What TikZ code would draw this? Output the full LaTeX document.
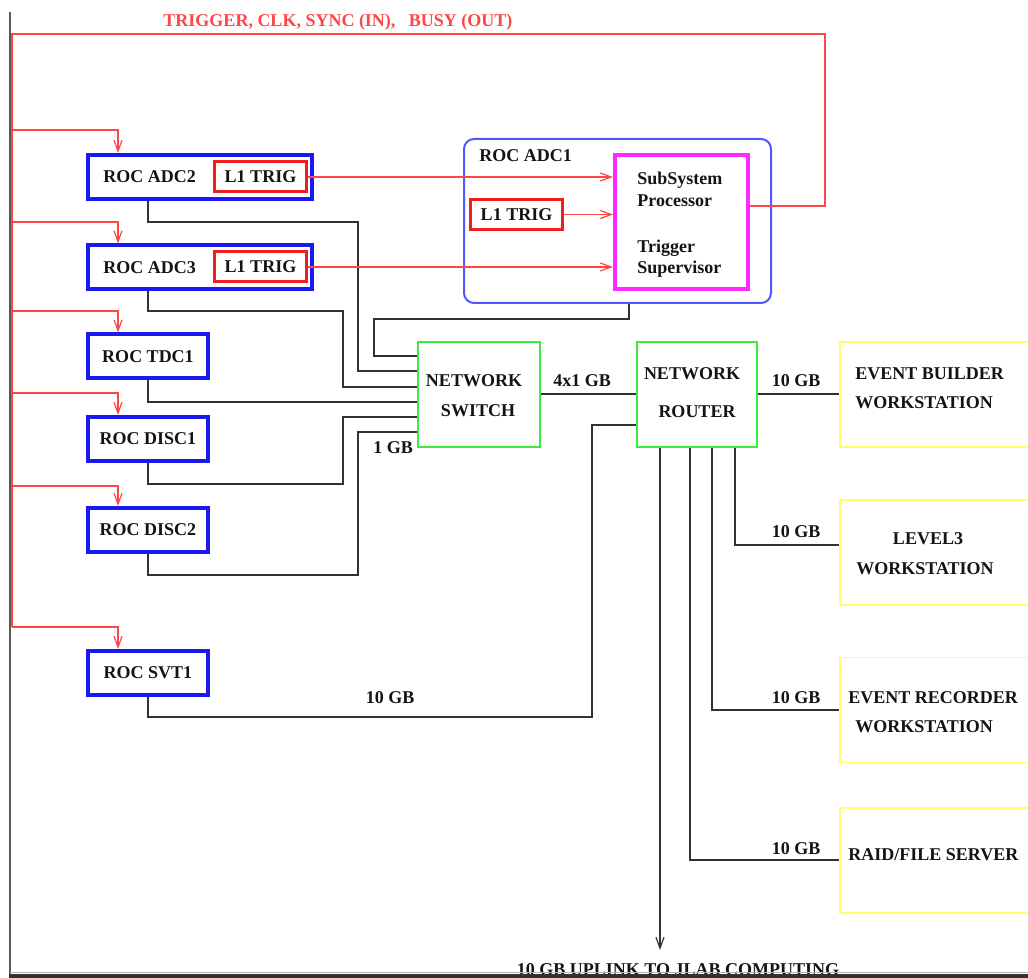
\documentclass[tikz,border=0pt]{standalone}
\usepackage{fontspec}
\setmainfont{Liberation Serif}
\usetikzlibrary{arrows.meta}
\definecolor{rocblue}{RGB}{25,25,240}
\definecolor{trigred}{RGB}{240,30,30}
\definecolor{sigred}{RGB}{255,70,70}
\definecolor{magentaC}{RGB}{255,40,255}
\definecolor{adcblue}{RGB}{85,85,255}
\definecolor{netgreen}{RGB}{60,235,60}
\definecolor{wsyellow}{RGB}{255,255,110}
\definecolor{wirec}{RGB}{50,50,50}
\definecolor{txt}{RGB}{20,20,20}
\definecolor{framedark}{RGB}{50,50,50}
\definecolor{framegray}{RGB}{90,90,90}
\begin{document}
\begin{tikzpicture}[x=0.5pt,y=-0.5pt,
  lbl/.style={font=\fontsize{9}{11}\selectfont\bfseries, text=txt, inner sep=0pt},
  rocbox/.style={draw=rocblue, line width=2pt, fill=white, inner sep=0pt, minimum height=22pt, font=\fontsize{9}{11}\selectfont\bfseries, text=txt},
  trigbox/.style={draw=trigred, line width=1.5pt, fill=white, inner sep=0pt, minimum width=46pt, minimum height=15pt, font=\fontsize{9}{11}\selectfont\bfseries, text=txt},
  netbox/.style={draw=netgreen, line width=0.8pt, inner sep=0pt, minimum height=52.5pt},
  wsbox/.style={draw=wsyellow, line width=0.8pt, inner sep=0pt, minimum width=130pt, minimum height=52.5pt},
  wire/.style={draw=wirec, line width=0.6pt},
  sig/.style={draw=sigred, line width=0.6pt},
  barb/.style={-{Straight Barb[length=5.5pt,width=4pt]}},
  sigarrow/.style={sig, barb}
]
\clip (0,0) rectangle (1028,978);
\fill[white] (0,0) rectangle (1028,978);

% title
\node[lbl, text=sigred, anchor=base] (title) at (338,27) {TRIGGER, CLK, SYNC (IN),\hspace{0.75em}BUSY (OUT)};

% ROC boxes
\node[rocbox, minimum width=112pt] (adc2) at (200,177) {};
\node[rocbox, minimum width=112pt] (adc3) at (200,267.5) {};
\node[rocbox, minimum width=60pt] (tdc1) at (148,356.5) {ROC TDC1};
\node[rocbox, minimum width=60pt] (disc1) at (148,439) {ROC DISC1};
\node[rocbox, minimum width=60pt] (disc2) at (148,530) {ROC DISC2};
\node[rocbox, minimum width=60pt] (svt1) at (148,673) {ROC SVT1};
\node[lbl, anchor=base west] (adc2t) at (103,183) {ROC ADC2};
\node[lbl, anchor=base west] (adc3t) at (103,274) {ROC ADC3};
\node[trigbox] (trig2) at (260.5,177) {L1 TRIG};
\node[trigbox] (trig3) at (260.5,267) {L1 TRIG};

% ROC ADC1
\node[draw=adcblue, line width=1pt, rounded corners=5pt, minimum width=153.5pt, minimum height=82pt, inner sep=0pt] (adc1) at (617.5,221) {};
\node[lbl, anchor=base west] (adc1t) at (479,162) {ROC ADC1};
\node[trigbox] (trig1) at (516.5,214.5) {L1 TRIG};
\node[draw=magentaC, line width=2pt, fill=white, minimum width=66.5pt, minimum height=67pt, inner sep=0pt] (ssp) at (681.5,222) {};
\node[lbl, anchor=base west] (sspa) at (637,185) {SubSystem};
\node[lbl, anchor=base west] (sspb) at (637,207) {Processor};
\node[lbl, anchor=base west] (tsa) at (637,253) {Trigger};
\node[lbl, anchor=base west] (tsb) at (637,274) {Supervisor};

% network
\node[netbox, minimum width=61pt] (switch) at (479,394.5) {};
\node[lbl, anchor=base] (swa) at (474,387) {NETWORK};
\node[lbl, anchor=base] (swb) at (478,417) {SWITCH};
\node[netbox, minimum width=60pt] (router) at (697,394.5) {};
\node[lbl, anchor=base] (rta) at (692,380) {NETWORK};
\node[lbl, anchor=base] (rtb) at (697,418) {ROUTER};

% workstations
\node[wsbox] (eb) at (970,394.5) {};
\node[lbl, anchor=base west] (eba) at (855,380) {EVENT BUILDER};
\node[lbl, anchor=base west] (ebb) at (855,409) {WORKSTATION};
\node[wsbox] (l3) at (970,552.5) {};
\node[lbl, anchor=base] (l3a) at (928,545) {LEVEL3};
\node[lbl, anchor=base] (l3b) at (925,574) {WORKSTATION};
\node[wsbox] (er) at (970,710) {};
\node[lbl, anchor=base west] (era) at (848,703) {EVENT RECORDER};
\node[lbl, anchor=base west] (erb) at (855,732) {WORKSTATION};
\node[wsbox] (raid) at (970,860.5) {};
\node[lbl, anchor=base west] (raida) at (848,860) {RAID/FILE SERVER};

% labels
\node[lbl, anchor=base] (g1) at (393,454) {1 GB};
\node[lbl, anchor=base] (g4) at (582,387) {4x1 GB};
\node[lbl, anchor=base] (g10a) at (796,387) {10 GB};
\node[lbl, anchor=base] (g10b) at (796,538) {10 GB};
\node[lbl, anchor=base] (g10c) at (796,703) {10 GB};
\node[lbl, anchor=base] (g10d) at (796,854) {10 GB};
\node[lbl, anchor=base] (g10e) at (390,703) {10 GB};
\node[lbl, anchor=base] (uplink) at (678,975) {10 GB UPLINK TO JLAB COMPUTING};

% black wires
\draw[wire] (adc2.south -| tdc1.south) |- (358,222) |- (switch.west |- 0,371);
\draw[wire] (adc3.south -| tdc1.south) |- (343,311) |- (switch.west |- 0,387);
\draw[wire] (tdc1.south) |- (switch.west |- 0,402);
\draw[wire] (disc1.south) |- (343,484) |- (switch.west |- 0,417);
\draw[wire] (disc2.south) |- (358,575) |- (switch.west |- 0,432);
\draw[wire] (adc1.south -| 629,0) |- (374,319) |- (switch.west |- 0,356);
\draw[wire] (switch.east |- 0,394) -- (router.west |- 0,394);
\draw[wire] (svt1.south) |- (592,717) |- (router.west |- 0,425);
\draw[wire] (router.east |- 0,394) -- (eb.west |- 0,394);
\draw[wire] (router.south -| 735,0) |- (l3.west |- 0,545);
\draw[wire] (router.south -| 712,0) |- (er.west |- 0,710);
\draw[wire] (router.south -| 690,0) |- (raid.west |- 0,860);
\coordinate (uplinkend) at (660,950);
\draw[wire, barb] (router.south -| uplinkend) -- (uplinkend);

% red signals
\draw[sig] (ssp.east |- 0,206) -| (825,34) -| (12,627);
\draw[sigarrow] (12,130) -| (adc2.north -| 118,0);
\draw[sigarrow] (12,222) -| (adc3.north -| 118,0);
\draw[sigarrow] (12,311) -| (tdc1.north -| 118,0);
\draw[sigarrow] (12,393) -| (disc1.north -| 118,0);
\draw[sigarrow] (12,486) -| (disc2.north -| 118,0);
\draw[sigarrow] (12,627) -| (svt1.north -| 118,0);
\draw[sigarrow] (trig2.east) -- (ssp.west |- trig2.east);
\draw[sigarrow] (trig1.east) -- (ssp.west |- trig1.east);
\draw[sigarrow] (trig3.east) -- (ssp.west |- trig3.east);

% page frame
\draw[framegray, line width=0.8pt] (10,12) -- (10,978);
\draw[gray!60, line width=0.5pt] (10,972.5) -- (1028,972.5);
\fill[framedark] (9,974) rectangle (1028,978);
\end{tikzpicture}
\end{document}
